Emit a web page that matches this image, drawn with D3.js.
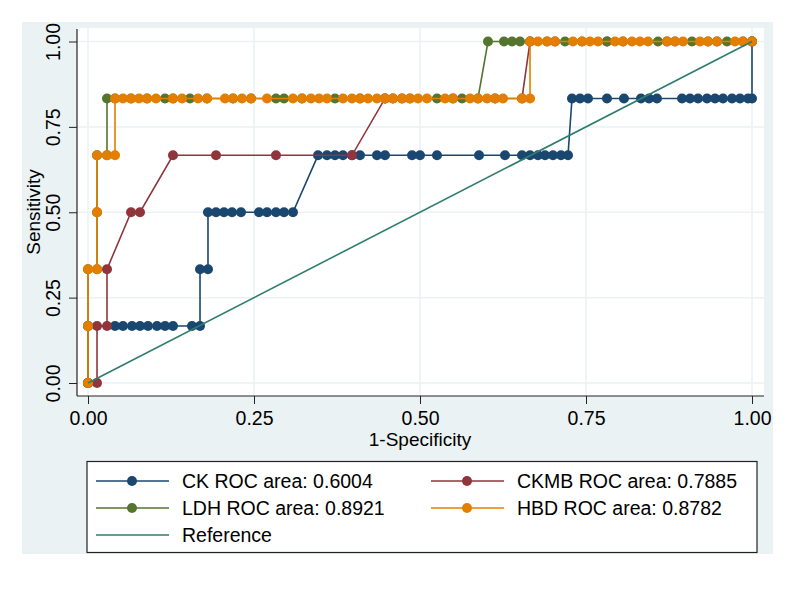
<!DOCTYPE html>
<html><head><meta charset="utf-8">
<script src="https://cdn.jsdelivr.net/npm/d3@7"></script>
<style>body{margin:0;background:#fff}svg{display:block}text{font-family:"Liberation Sans",Arial,sans-serif;fill:#000}</style>
</head><body><svg id="c" width="800" height="600"></svg>
<script>
// ---- data ----
const tickValues = [0, 0.25, 0.5, 0.75, 1];
const seriesNames = ["CK ROC area: 0.6004", "CKMB ROC area: 0.7885", "LDH ROC area: 0.8921", "HBD ROC area: 0.8782"];
const refName = "Reference";
const xTitle = "1-Specificity";
const yTitle = "Sensitivity";
const ckX = [0,0,0.0407,0.0527,0.0663,0.0783,0.0904,0.1039,0.1160,0.1280,0.1566,0.1687,0.1687,0.1807,0.1807,0.1928,0.2048,0.2169,0.2304,0.2575,0.2696,0.2831,0.2952,0.3087,0.3464,0.3599,0.3720,0.3840,0.3976,0.4096,0.4352,0.4473,0.4880,0.5000,0.5256,0.5889,0.6280,0.6536,0.6657,0.6777,0.6883,0.7003,0.7123,0.7229,0.7289,0.7410,0.7530,0.7816,0.8072,0.8328,0.8449,0.8569,0.8946,0.9066,0.9187,0.9322,0.9443,0.9563,0.9699,0.9819,0.9940,1,1];
const ckY = [0,0.1667,0.1667,0.1667,0.1667,0.1667,0.1667,0.1667,0.1667,0.1667,0.1667,0.1667,0.3333,0.3333,0.5,0.5,0.5,0.5,0.5,0.5,0.5,0.5,0.5,0.5,0.6667,0.6667,0.6667,0.6667,0.6667,0.6667,0.6667,0.6667,0.6667,0.6667,0.6667,0.6667,0.6667,0.6667,0.6667,0.6667,0.6667,0.6667,0.6667,0.6667,0.8333,0.8333,0.8333,0.8333,0.8333,0.8333,0.8333,0.8333,0.8333,0.8333,0.8333,0.8333,0.8333,0.8333,0.8333,0.8333,0.8333,0.8333,1];
const ckmbX = [0,0.0136,0.0136,0.0286,0.0286,0.0648,0.0783,0.1280,0.1928,0.2831,0.3976,0.4473,0.4593,0.4729,0.5497,0.6130,0.6536,0.6657,0.7033,0.7816,0.8720,0.9473,1];
const ckmbY = [0,0,0.1667,0.1667,0.3333,0.5,0.5,0.6667,0.6667,0.6667,0.6667,0.8333,0.8333,0.8333,0.8333,0.8333,0.8333,1,1,1,1,1,1];
const ldhX = [0,0,0,0.0136,0.0136,0.0136,0.0286,0.0286,0.0407,0.0648,0.0889,0.1160,0.1280,0.1536,0.1792,0.2184,0.2455,0.2831,0.2952,0.3223,0.3720,0.4096,0.4473,0.4849,0.5256,0.5633,0.5873,0.6024,0.6265,0.6386,0.6506,0.6657,0.6913,0.7184,0.7440,0.7816,0.8057,0.8584,0.8840,0.9096,0.9337,0.9623,0.9864,1];
const ldhY = [0,0.1667,0.3333,0.3333,0.5,0.6667,0.6667,0.8333,0.8333,0.8333,0.8333,0.8333,0.8333,0.8333,0.8333,0.8333,0.8333,0.8333,0.8333,0.8333,0.8333,0.8333,0.8333,0.8333,0.8333,0.8333,0.8333,1,1,1,1,1,1,1,1,1,1,1,1,1,1,1,1,1];
const hbdX = [0,0,0,0.0136,0.0136,0.0136,0.0286,0.0407,0.0407,0.0527,0.0648,0.0768,0.0889,0.1024,0.1280,0.1416,0.1657,0.1792,0.2063,0.2184,0.2319,0.2455,0.2696,0.3087,0.3223,0.3358,0.3479,0.3599,0.3840,0.3976,0.4096,0.4217,0.4352,0.4473,0.4593,0.4729,0.4849,0.4970,0.5105,0.5377,0.5497,0.5753,0.5873,0.6009,0.6130,0.6250,0.6536,0.6657,0.6657,0.6777,0.6913,0.7033,0.7304,0.7440,0.7560,0.7681,0.7937,0.8057,0.8193,0.8313,0.8434,0.8720,0.8840,0.8961,0.9217,0.9337,0.9473,0.9744,0.9864,1];
const hbdY = [0,0.1667,0.3333,0.3333,0.5,0.6667,0.6667,0.6667,0.8333,0.8333,0.8333,0.8333,0.8333,0.8333,0.8333,0.8333,0.8333,0.8333,0.8333,0.8333,0.8333,0.8333,0.8333,0.8333,0.8333,0.8333,0.8333,0.8333,0.8333,0.8333,0.8333,0.8333,0.8333,0.8333,0.8333,0.8333,0.8333,0.8333,0.8333,0.8333,0.8333,0.8333,0.8333,0.8333,0.8333,0.8333,0.8333,0.8333,1,1,1,1,1,1,1,1,1,1,1,1,1,1,1,1,1,1,1,1,1,1];
const refX = [0, 1];
const refY = [0, 1];
const colors = ["#1a476f", "#90353b", "#55752f", "#e37e00"];
const refColor = "#2e7d6d";

// ---- drawing ----
const svg = d3.select("#c");
const x = d3.scaleLinear().domain([0, 1]).range([88, 752]);
const y = d3.scaleLinear().domain([0, 1]).range([383, 41.5]);
const bg = "#eaf2f3";

svg.append("rect").attr("x", 22).attr("y", 22).attr("width", 751).attr("height", 532).attr("fill", bg);
svg.append("rect").attr("x", 77).attr("y", 28).attr("width", 687).attr("height", 368).attr("fill", "#fff");

// grid
svg.append("g").selectAll("line.h").data(tickValues).join("line")
  .attr("x1", 77).attr("x2", 764).attr("y1", d => y(d)).attr("y2", d => y(d))
  .attr("stroke", bg).attr("stroke-width", 1.5);
svg.append("g").selectAll("line.v").data(tickValues).join("line")
  .attr("y1", 28).attr("y2", 396).attr("x1", d => x(d)).attr("x2", d => x(d))
  .attr("stroke", bg).attr("stroke-width", 1.5);

// axes
const fmt = d3.format(".2f");
const xa = svg.append("g").attr("transform", "translate(0,396)")
  .call(d3.axisBottom(x).tickValues(tickValues).tickFormat(fmt).tickSize(8));
xa.select(".domain").remove();
xa.selectAll("text").attr("y", 29).attr("dy", 0).style("font-size", "19.5px").style("font-family", "Liberation Sans, Arial").attr("fill", "#000");
xa.selectAll("line").attr("stroke", "#222");
const ya = svg.append("g").attr("transform", "translate(77,0)")
  .call(d3.axisLeft(y).tickValues(tickValues).tickFormat(fmt).tickSize(8));
ya.select(".domain").remove();
ya.selectAll("text").attr("x", 0).attr("y", -17).attr("dy", 0).attr("transform", "rotate(-90)")
  .attr("text-anchor", "middle").style("font-size", "19.5px").style("font-family", "Liberation Sans, Arial").attr("fill", "#000");
ya.selectAll("line").attr("stroke", "#222");
svg.append("line").attr("x1", 77).attr("x2", 77).attr("y1", 29).attr("y2", 396).attr("stroke", "#222").attr("stroke-width", 1.2);
svg.append("line").attr("x1", 77).attr("x2", 764).attr("y1", 396).attr("y2", 396).attr("stroke", "#222").attr("stroke-width", 1.2);

svg.append("text").attr("x", 420).attr("y", 446).attr("text-anchor", "middle").style("font-size", "19px").text(xTitle);
svg.append("text").attr("transform", "translate(40,212) rotate(-90)").attr("text-anchor", "middle").style("font-size", "19px").text(yTitle);

// series
const allX = [ckX, ckmbX, ldhX, hbdX];
const allY = [ckY, ckmbY, ldhY, hbdY];
const line = d3.line().x(d => x(d[0])).y(d => y(d[1]));
allX.forEach((xs, i) => {
  const pts = xs.map((v, j) => [v, allY[i][j]]);
  const g = svg.append("g");
  g.append("path").datum(pts).attr("d", line).attr("fill", "none").attr("stroke", colors[i]).attr("stroke-width", 1.6);
  g.selectAll("circle").data(pts).join("circle").attr("cx", d => x(d[0])).attr("cy", d => y(d[1])).attr("r", 5).attr("fill", colors[i]);
});
svg.append("path").datum(refX.map((v, j) => [v, refY[j]])).attr("d", line).attr("fill", "none").attr("stroke", refColor).attr("stroke-width", 1.6);

// legend
const lg = svg.append("g");
lg.append("rect").attr("x", 87).attr("y", 461.5).attr("width", 670).attr("height", 91).attr("fill", "#fff").attr("stroke", "#222").attr("stroke-width", 1.2);
const items = seriesNames.map((n, i) => ({name: n, color: colors[i], marker: true}));
items.push({name: refName, color: refColor, marker: false});
items.forEach((it, i) => {
  const col = i % 2, row = Math.floor(i / 2);
  const x0 = col === 0 ? 96 : 431;
  const cy = 481 + row * 27;
  lg.append("line").attr("x1", x0).attr("x2", x0 + 73).attr("y1", cy).attr("y2", cy).attr("stroke", it.color).attr("stroke-width", 1.6);
  if (it.marker) lg.append("circle").attr("cx", x0 + 36).attr("cy", cy).attr("r", 5).attr("fill", it.color);
  lg.append("text").attr("x", x0 + 86).attr("y", cy + 7).style("font-size", "19.5px").text(it.name);
});
</script></body></html>
